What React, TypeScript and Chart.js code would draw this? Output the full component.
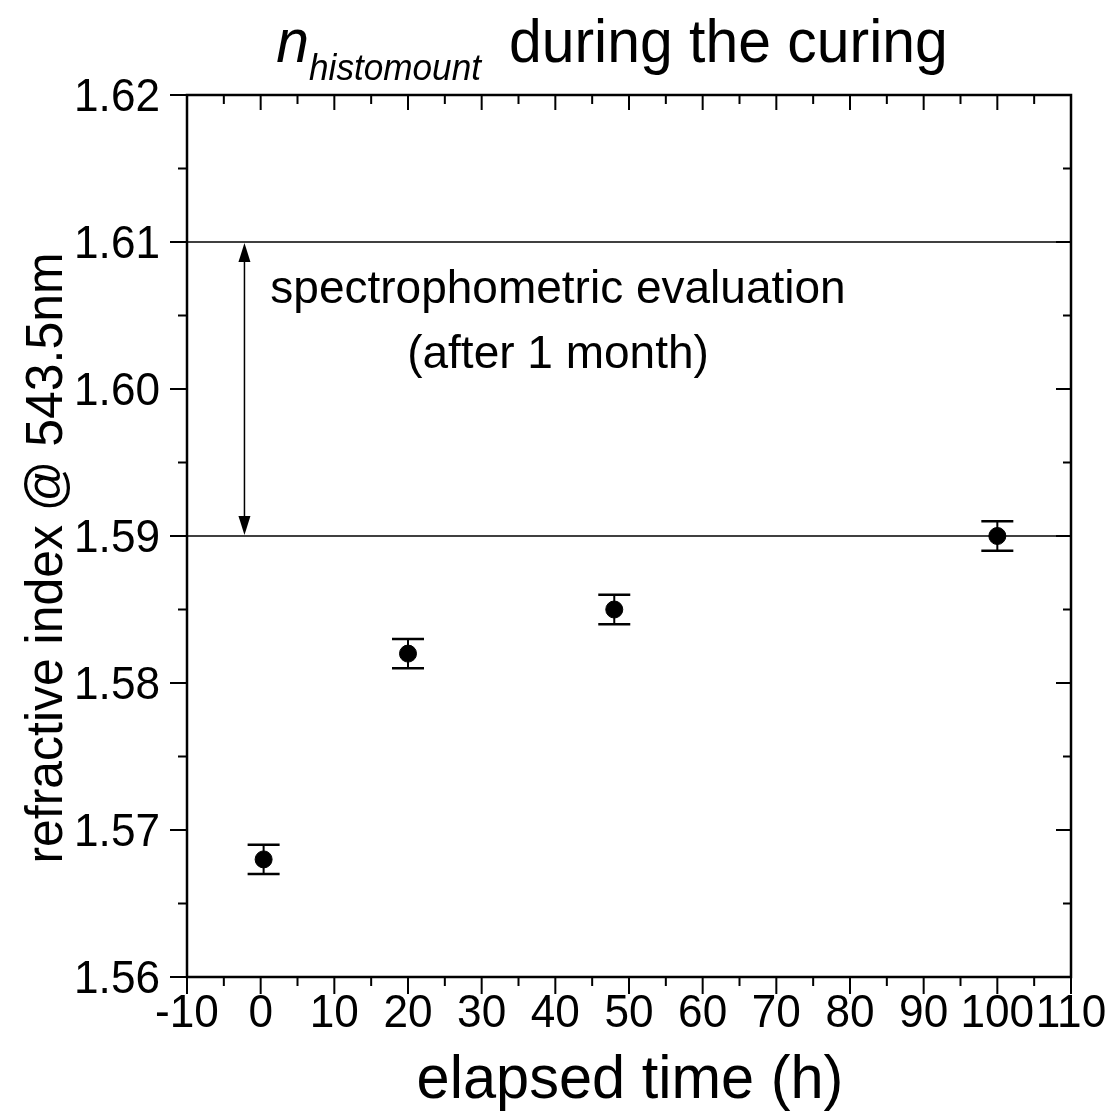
import React, { useEffect, useRef } from 'react';
import { Chart, registerables } from 'chart.js';

Chart.register(...registerables);

// ---- data ----
const TIMES_H = [0.4, 20, 48, 100];
const REFRACTIVE_INDEX = [1.568, 1.582, 1.585, 1.59];
const INDEX_ERROR = [0.001, 0.001, 0.001, 0.001];
const SPECTRO_RANGE = [1.59, 1.61];
const ARROW_TIME = -2.2;
const X_RANGE = [-10, 110];
const Y_RANGE = [1.56, 1.62];
const X_TICK_LABELS = ['-10', '0', '10', '20', '30', '40', '50', '60', '70', '80', '90', '100', '110'];
const Y_TICK_LABELS = ['1.56', '1.57', '1.58', '1.59', '1.60', '1.61', '1.62'];
const TITLE_MAIN = 'n';
const TITLE_SUB = 'histomount';
const TITLE_REST = 'during the curing';
const X_TITLE = 'elapsed time (h)';
const Y_TITLE = 'refractive index @ 543.5nm';
const NOTE_LINES = ['spectrophometric evaluation', '(after 1 month)'];

const FONT = '"Liberation Sans", Arial, Helvetica, sans-serif';

function stretchedText(
  ctx: CanvasRenderingContext2D,
  text: string,
  x: number,
  y: number,
  font: string,
  align: CanvasTextAlign,
  sx: number,
) {
  ctx.save();
  ctx.translate(x, y);
  ctx.scale(sx, 1);
  ctx.font = font;
  ctx.textAlign = align;
  ctx.textBaseline = 'alphabetic';
  ctx.fillStyle = '#000';
  ctx.fillText(text, 0, 0);
  ctx.restore();
}

const decorPlugin = {
  id: 'decor',
  beforeDatasetsDraw(chart: any) {
    const ctx: CanvasRenderingContext2D = chart.ctx;
    const xs = chart.scales.x;
    const ys = chart.scales.y;
    const area = chart.chartArea;
    ctx.save();
    ctx.strokeStyle = '#000';
    // reference lines
    ctx.lineWidth = 1.5;
    SPECTRO_RANGE.forEach((v) => {
      const py = ys.getPixelForValue(v);
      ctx.beginPath();
      ctx.moveTo(area.left, py);
      ctx.lineTo(area.right, py);
      ctx.stroke();
    });
    // double arrow
    const ax = xs.getPixelForValue(ARROW_TIME);
    const yTop = ys.getPixelForValue(SPECTRO_RANGE[1]);
    const yBot = ys.getPixelForValue(SPECTRO_RANGE[0]);
    const headL = 20;
    const headW = 6;
    ctx.beginPath();
    ctx.moveTo(ax, yTop + headL - 2);
    ctx.lineTo(ax, yBot - headL + 2);
    ctx.stroke();
    ctx.fillStyle = '#000';
    ctx.beginPath();
    ctx.moveTo(ax, yTop + 1);
    ctx.lineTo(ax - headW, yTop + headL);
    ctx.lineTo(ax + headW, yTop + headL);
    ctx.closePath();
    ctx.fill();
    ctx.beginPath();
    ctx.moveTo(ax, yBot - 1);
    ctx.lineTo(ax - headW, yBot - headL);
    ctx.lineTo(ax + headW, yBot - headL);
    ctx.closePath();
    ctx.fill();
    // error bars
    TIMES_H.forEach((t, i) => {
      const px = xs.getPixelForValue(t);
      const pHi = ys.getPixelForValue(REFRACTIVE_INDEX[i] + INDEX_ERROR[i]);
      const pLo = ys.getPixelForValue(REFRACTIVE_INDEX[i] - INDEX_ERROR[i]);
      ctx.lineWidth = 2;
      ctx.beginPath();
      ctx.moveTo(px, pHi);
      ctx.lineTo(px, pLo);
      ctx.stroke();
      ctx.lineWidth = 2.5;
      ctx.beginPath();
      ctx.moveTo(px - 16, pHi);
      ctx.lineTo(px + 16, pHi);
      ctx.moveTo(px - 16, pLo);
      ctx.lineTo(px + 16, pLo);
      ctx.stroke();
    });
    ctx.restore();
  },
  afterDraw(chart: any) {
    const ctx: CanvasRenderingContext2D = chart.ctx;
    const xs = chart.scales.x;
    const ys = chart.scales.y;
    const area = chart.chartArea;
    ctx.save();
    ctx.strokeStyle = '#000';
    ctx.lineCap = 'butt';
    // frame
    ctx.lineWidth = 2.5;
    ctx.strokeRect(area.left, area.top, area.right - area.left, area.bottom - area.top);

    // ticks
    ctx.lineWidth = 2;
    const xVals = X_TICK_LABELS.map(Number);
    const yVals = Y_TICK_LABELS.map(Number);
    const tickX = (v: number, major: boolean) => {
      const px = xs.getPixelForValue(v);
      ctx.beginPath();
      ctx.moveTo(px, area.bottom);
      ctx.lineTo(px, area.bottom + (major ? 17 : 9));
      ctx.moveTo(px, area.top);
      ctx.lineTo(px, area.top + (major ? 15 : 9));
      ctx.stroke();
    };
    const tickY = (v: number, major: boolean) => {
      const py = ys.getPixelForValue(v);
      ctx.beginPath();
      ctx.moveTo(area.left, py);
      ctx.lineTo(area.left - (major ? 17 : 9), py);
      ctx.moveTo(area.right, py);
      ctx.lineTo(area.right - (major ? 15 : 8), py);
      ctx.stroke();
    };
    xVals.forEach((v, i) => {
      tickX(v, true);
      if (i < xVals.length - 1) tickX((v + xVals[i + 1]) / 2, false);
    });
    yVals.forEach((v, i) => {
      tickY(v, true);
      if (i < yVals.length - 1) tickY((v + yVals[i + 1]) / 2, false);
    });

    // tick labels
    X_TICK_LABELS.forEach((lab) => {
      const px = xs.getPixelForValue(Number(lab));
      stretchedText(ctx, lab, px, area.bottom + 50, `46px ${FONT}`, 'center', 0.96);
    });
    Y_TICK_LABELS.forEach((lab) => {
      const py = ys.getPixelForValue(Number(lab));
      stretchedText(ctx, lab, area.left - 27, py + 16, `46px ${FONT}`, 'right', 0.96);
    });

    // axis titles
    const cx = (area.left + area.right) / 2;
    stretchedText(ctx, X_TITLE, cx + 1, 1098, `62px ${FONT}`, 'center', 0.96);
    ctx.save();
    ctx.translate(62, 558);
    ctx.rotate(-Math.PI / 2);
    ctx.scale(0.96, 1);
    ctx.font = `52px ${FONT}`;
    ctx.textAlign = 'center';
    ctx.fillStyle = '#000';
    ctx.fillText(Y_TITLE, 0, 0);
    ctx.restore();

    // chart title: italic n with italic subscript
    const sx = 0.95;
    const fMain = `italic 62px ${FONT}`;
    const fSub = `italic 37px ${FONT}`;
    const fRest = `62px ${FONT}`;
    ctx.font = fMain;
    const wMain = ctx.measureText(TITLE_MAIN).width * sx;
    ctx.font = fSub;
    const wSub = ctx.measureText(TITLE_SUB).width * sx;
    ctx.font = fRest;
    const wRest = ctx.measureText(TITLE_REST).width * sx;
    const gap = 28;
    const total = wMain + wSub + gap + wRest;
    let x0 = 612 - total / 2;
    stretchedText(ctx, TITLE_MAIN, x0, 62, fMain, 'left', sx);
    x0 += wMain;
    stretchedText(ctx, TITLE_SUB, x0, 80, fSub, 'left', sx);
    x0 += wSub + gap;
    stretchedText(ctx, TITLE_REST, x0, 62, fRest, 'left', sx);

    // annotation
    stretchedText(ctx, NOTE_LINES[0], 558, 303, `46px ${FONT}`, 'center', 1.0);
    stretchedText(ctx, NOTE_LINES[1], 558, 368, `46px ${FONT}`, 'center', 1.0);
    ctx.restore();
  },
};

export default function App() {
  const canvasRef = useRef<HTMLCanvasElement | null>(null);

  useEffect(() => {
    const canvas = canvasRef.current;
    if (!canvas) return;
    const chart = new Chart(canvas, {
      type: 'scatter',
      data: {
        datasets: [
          {
            label: 'n',
            data: TIMES_H.map((t, i) => ({ x: t, y: REFRACTIVE_INDEX[i] })),
            backgroundColor: '#000',
            borderColor: '#000',
            pointRadius: 8.5,
            pointHoverRadius: 8.5,
            showLine: false,
          },
        ],
      },
      options: {
        responsive: false,
        animation: false,
        devicePixelRatio: 1,
        layout: { padding: { top: 95, right: 42, bottom: 0, left: 0 } },
        plugins: {
          legend: { display: false },
          tooltip: { enabled: false },
          title: { display: false },
        },
        events: [],
        scales: {
          x: {
            type: 'linear',
            min: X_RANGE[0],
            max: X_RANGE[1],
            ticks: { display: false, stepSize: 10 },
            grid: { display: false },
            border: { display: false },
            afterFit: (s: any) => {
              s.height = 143;
            },
          },
          y: {
            type: 'linear',
            min: Y_RANGE[0],
            max: Y_RANGE[1],
            ticks: { display: false, stepSize: 0.01 },
            grid: { display: false },
            border: { display: false },
            afterFit: (s: any) => {
              s.width = 187;
            },
          },
        },
      },
      plugins: [decorPlugin],
    });
    return () => chart.destroy();
  }, []);

  return (
    <div
      style={{
        position: 'absolute',
        left: 0,
        top: 0,
        width: 1113,
        height: 1120,
        background: '#fff',
      }}
    >
      <canvas ref={canvasRef} width={1113} height={1120} style={{ width: 1113, height: 1120, display: 'block' }} />
    </div>
  );
}
